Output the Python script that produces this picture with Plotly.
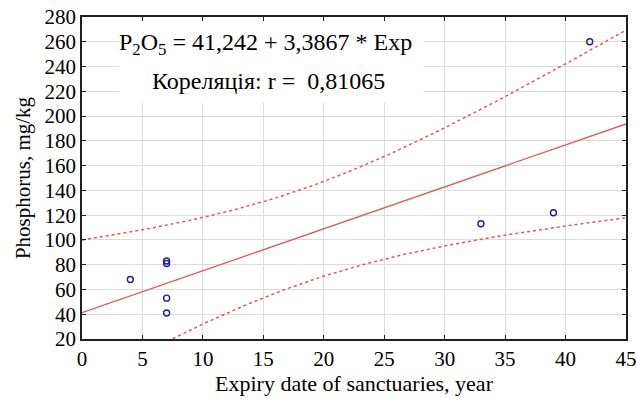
import numpy as np
import plotly.graph_objects as go

# ---- data ----
expiry_years = [4, 7, 7, 7, 7, 33, 39, 42]
phosphorus = [68, 83, 81, 53, 41, 113, 122, 260]

intercept = 41.242
slope = 3.3867
corr_r = 0.81065

x_ticks = [0, 5, 10, 15, 20, 25, 30, 35, 40, 45]
y_ticks = [20, 40, 60, 80, 100, 120, 140, 160, 180, 200, 220, 240, 260, 280]

eq_text = "P<sub>2</sub>O<sub>5</sub> = 41,242 + 3,3867 * Exp"
corr_text = "Кореляція: r = \u00a00,81065"
x_title = "Expiry date of sanctuaries, year"
y_title = "Phosphorus, mg/kg"

# ---- regression line and 95% confidence band from the data ----
xd = np.array(expiry_years, float)
yd = np.array(phosphorus, float)
n = len(xd)
xm = xd.mean()
sxx = ((xd - xm) ** 2).sum()
resid = yd - (intercept + slope * xd)
s = np.sqrt((resid ** 2).sum() / (n - 2))
t975 = 2.4469  # Student t, df = 6
xs = np.linspace(0, 45, 200)
fit = intercept + slope * xs
half = t975 * s * np.sqrt(1.0 / n + (xs - xm) ** 2 / sxx)

font_fam = "Liberation Serif, Times New Roman, serif"
red = "#e05a5a"

fig = go.Figure()
fig.add_trace(go.Scatter(x=xs, y=fit, mode="lines",
                         line=dict(color=red, width=1.3), hoverinfo="skip"))
fig.add_trace(go.Scatter(x=xs, y=fit + half, mode="lines",
                         line=dict(color=red, width=1.5, dash="3px,3px"), hoverinfo="skip"))
fig.add_trace(go.Scatter(x=xs, y=fit - half, mode="lines",
                         line=dict(color=red, width=1.5, dash="3px,3px"), hoverinfo="skip"))
fig.add_trace(go.Scatter(x=expiry_years, y=phosphorus, mode="markers",
                         marker=dict(symbol="circle-open", size=6, color="#1c1ca0",
                                     line=dict(width=1.4, color="#1c1ca0"))))

fig.add_shape(type="rect", xref="x", yref="y", x0=3.07, x1=28.25, y0=210.6, y1=280,
              fillcolor="white", line=dict(width=0), layer="between")

fig.add_annotation(x=15.2, y=258.6, xref="x", yref="y", text=eq_text, showarrow=False,
                   font=dict(family=font_fam, size=24, color="black"))
fig.add_annotation(x=15.4, y=228.2, xref="x", yref="y", text=corr_text, showarrow=False,
                   font=dict(family=font_fam, size=24, color="black"))

axis_common = dict(showgrid=True, gridcolor="#dcdcdc", gridwidth=1,
                   showline=True, linecolor="#202020", linewidth=1.5, mirror="ticks",
                   ticks="inside", ticklen=4, tickcolor="#202020", zeroline=False,
                   automargin=False,
                   tickfont=dict(family=font_fam, size=21, color="black"))

fig.update_xaxes(range=[0, 45], tickvals=x_ticks, ticktext=[str(v) for v in x_ticks],
                 title=dict(text=x_title, font=dict(family=font_fam, size=22, color="black"),
                            standoff=5),
                 **axis_common)
fig.update_yaxes(range=[20, 280], tickvals=y_ticks, ticktext=[str(v) for v in y_ticks],
                 title=dict(text=y_title, font=dict(family=font_fam, size=21, color="black"),
                            standoff=8),
                 **axis_common)

fig.update_layout(width=637, height=403, showlegend=False,
                  margin=dict(l=82, r=11, t=17, b=64),
                  plot_bgcolor="white", paper_bgcolor="white")

# remove the page body's default margin so the figure sits at the window's corner
fig.write_html("out.html", config={"displayModeBar": False},
               post_script="document.body.style.margin='0';")
